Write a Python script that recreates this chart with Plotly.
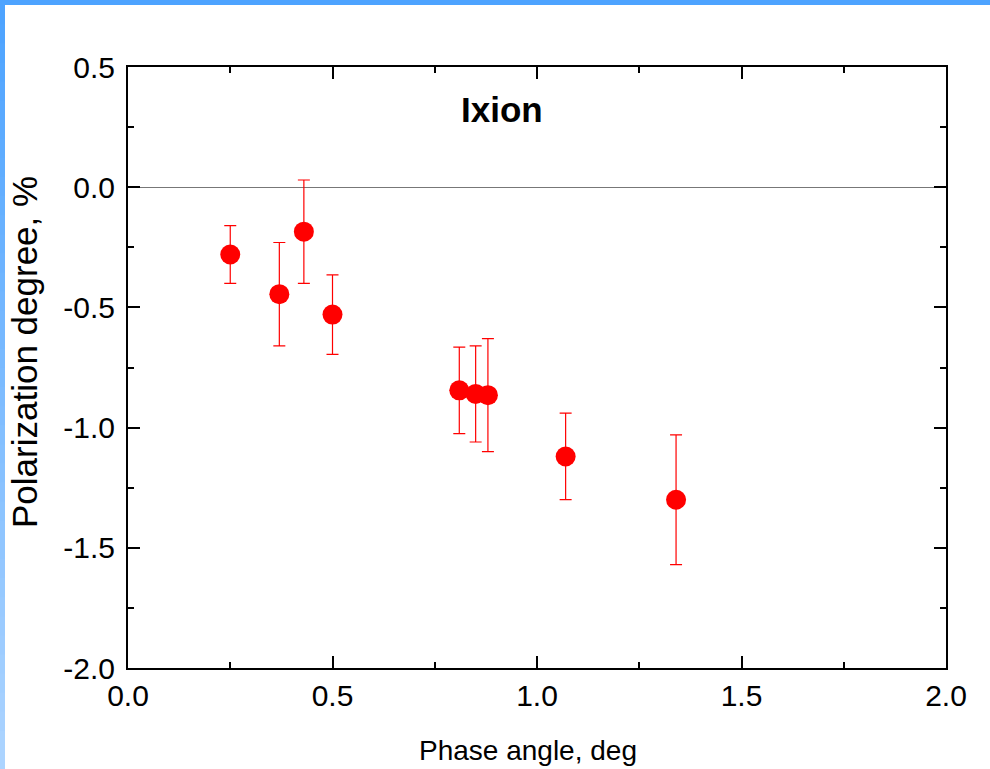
import plotly.graph_objects as go

# Data
phase_angle = [0.25, 0.37, 0.43, 0.50, 0.81, 0.85, 0.88, 1.07, 1.34]
polarization = [-0.28, -0.445, -0.185, -0.53, -0.845, -0.86, -0.865, -1.12, -1.30]
pol_error = [0.12, 0.215, 0.215, 0.165, 0.18, 0.20, 0.235, 0.18, 0.27]

x_ticks = [0.0, 0.5, 1.0, 1.5, 2.0]
y_ticks = [0.5, 0.0, -0.5, -1.0, -1.5, -2.0]
x_tick_text = ["0.0", "0.5", "1.0", "1.5", "2.0"]
y_tick_text = ["0.5", "0.0", "-0.5", "-1.0", "-1.5", "-2.0"]

title_text = "Ixion"
x_title = "Phase angle, deg"
y_title = "Polarization degree, %"

W, H = 990, 769
ML, MR, MT, MB = 128, 44, 67, 101
PW = W - ML - MR
PH = H - MT - MB

def px_x(p):
    return (p - ML) / PW

def px_y(p):
    return (H - MB - p) / PH

FONT = "Liberation Sans, Arial, sans-serif"

fig = go.Figure()
fig.add_trace(go.Scatter(
    x=phase_angle, y=polarization, mode="markers",
    marker=dict(color="#ff0000", size=20, line=dict(width=0)),
    error_y=dict(type="data", array=pol_error, visible=True,
                 color="#ff0000", thickness=1.2, width=6),
    showlegend=False, cliponaxis=False,
))

axis_common = dict(
    showgrid=False, showline=True, linecolor="black", linewidth=2,
    mirror="ticks", ticks="inside", ticklen=12, tickwidth=2, tickcolor="black",
    tickfont=dict(family=FONT, size=30, color="black"),
    minor=dict(ticks="inside", ticklen=6, tickwidth=2, tickcolor="black", dtick=0.25),
)

fig.update_xaxes(range=[0, 2], tickvals=x_ticks, ticktext=x_tick_text,
                 zeroline=False, **axis_common)
fig.update_yaxes(range=[-2, 0.5], tickvals=y_ticks, ticktext=y_tick_text,
                 zeroline=True, zerolinecolor="#777777", zerolinewidth=1,
                 ticklabelstandoff=5, **axis_common)

# Blue frame: top bar and left gradient strip
shapes = [dict(type="rect", xref="paper", yref="paper",
               x0=px_x(0), x1=px_x(W), y0=px_y(5), y1=px_y(0),
               fillcolor="#4da3ff", line=dict(width=0), layer="below")]
n = 40
c0 = (77, 163, 255)
c1 = (172, 212, 255)
for i in range(n):
    t = i / (n - 1)
    col = tuple(int(round(c0[k] + (c1[k] - c0[k]) * t)) for k in range(3))
    y_top = 5 + (H - 5) * i / n
    y_bot = 5 + (H - 5) * (i + 1) / n + 1
    shapes.append(dict(type="rect", xref="paper", yref="paper",
                       x0=px_x(0), x1=px_x(5), y0=px_y(y_bot), y1=px_y(y_top),
                       fillcolor="rgb(%d,%d,%d)" % col, line=dict(width=0),
                       layer="below"))
shapes.append(dict(type="rect", xref="paper", yref="paper",
                   x0=px_x(0), x1=px_x(5), y0=px_y(5), y1=px_y(0),
                   fillcolor="#4da3ff", line=dict(width=0), layer="below"))

annotations = [
    dict(text="<b>%s</b>" % title_text, x=px_x(502), y=px_y(109),
         xref="paper", yref="paper", showarrow=False,
         xanchor="center", yanchor="middle",
         font=dict(family=FONT, size=35, color="black")),
    dict(text=x_title, x=px_x(528), y=px_y(751),
         xref="paper", yref="paper", showarrow=False,
         xanchor="center", yanchor="middle",
         font=dict(family=FONT, size=28, color="black")),
    dict(text=y_title, x=px_x(24), y=px_y(352), textangle=-90,
         xref="paper", yref="paper", showarrow=False,
         xanchor="center", yanchor="middle",
         font=dict(family=FONT, size=35, color="black")),
]

fig.update_layout(
    width=W, height=H,
    margin=dict(l=ML, r=MR, t=MT, b=MB, pad=0),
    paper_bgcolor="white", plot_bgcolor="white",
    shapes=shapes, annotations=annotations,
    font=dict(family=FONT, color="black"),
)

fig.write_html("out.html", config={"displayModeBar": False})
